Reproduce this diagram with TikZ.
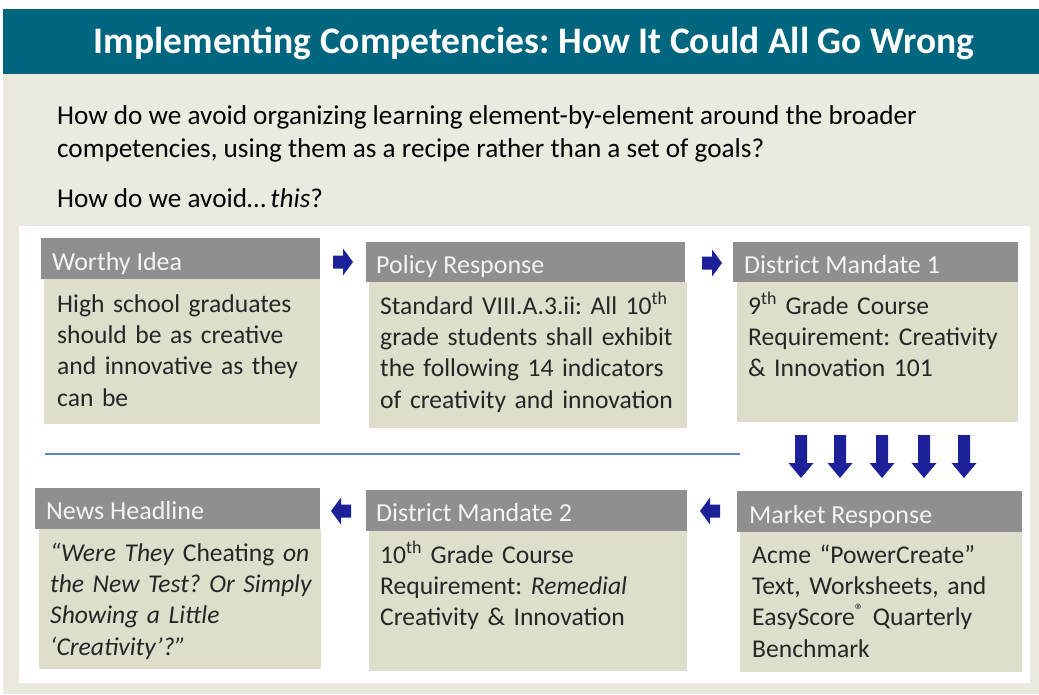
\documentclass[tikz,border=0pt]{standalone}
\usepackage{fontspec}
\setmainfont{Carlito}
\frenchspacing
\definecolor{titleteal}{HTML}{00667F}
\definecolor{pagebeige}{HTML}{ECE9DF}
\definecolor{hdrgray}{HTML}{8F8F8F}
\definecolor{bodyfill}{HTML}{DFDDCB}
\definecolor{bodytext}{HTML}{262626}
\definecolor{hdrtext}{HTML}{F4F4F4}
\definecolor{arrowblue}{HTML}{1C2199}
\definecolor{lineblue}{HTML}{5E86C4}
\begin{document}
\begin{tikzpicture}[x=1pt,y=-1pt,
  hdrbox/.style={fill=hdrgray, draw=none, inner sep=0, anchor=north west},
  bodybox/.style={fill=bodyfill, draw=none, inner sep=0, anchor=north west},
  htext/.style={anchor=base west, inner sep=0, text=hdrtext, font=\fontsize{26}{30}\selectfont\frenchspacing},
  btext/.style={anchor=base west, inner sep=0, text=bodytext, text width=300pt, align=left, font=\fontsize{25.6}{31.4}\selectfont\frenchspacing},
  qtext/.style={anchor=base west, inner sep=0, text=black, font=\fontsize{27.2}{30}\selectfont\frenchspacing},
  rarr/.pic={\fill[arrowblue] (-10,-6.5) -- (0,-6.5) -- (0,-13.5) -- (10,0) -- (0,13.5) -- (0,6.5) -- (-10,6.5) -- cycle;},
  darr/.pic={\fill[arrowblue] (-6,0) -- (6,0) -- (6,28) -- (12.5,28) -- (0,43) -- (-12.5,28) -- (-6,28) -- cycle;}
]
\useasboundingbox (0,0) rectangle (1039,694);
\fill[white] (0,0) rectangle (1039,694);
\fill[titleteal] (3,9) rectangle (1039,74);
\fill[pagebeige] (3,74) rectangle (1039,694);
\fill[white] (19,226) rectangle (1030,683);

% title
\node[anchor=base, inner sep=0, text=white, font=\fontsize{37.5}{40}\selectfont\bfseries] (title) at (534,53) {Implementing Competencies: How It Could All Go Wrong};

% questions
\node[qtext] (q1) at (57,124) {How do we avoid organizing learning element-by-element around the broader};
\node[qtext] (q2) at (57,157) {competencies, using them as a recipe rather than a set of goals?};
\node[qtext] (q3) at (57,207) {How do we avoid\ldots\,\textit{this}?};

% top row boxes
\node[hdrbox, minimum width=279, minimum height=41] (h1) at (41,238) {};
\node[bodybox, minimum width=276, minimum height=145] (b1) at (44,279) {};
\node[hdrbox, minimum width=319, minimum height=40] (h2) at (366,242) {};
\node[bodybox, minimum width=318, minimum height=146] (b2) at (369,282) {};
\node[hdrbox, minimum width=285, minimum height=40] (h3) at (733,242) {};
\node[bodybox, minimum width=281, minimum height=140] (b3) at (737,282) {};

% bottom row boxes
\node[hdrbox, minimum width=285, minimum height=41] (h4) at (35,488) {};
\node[bodybox, minimum width=282, minimum height=140] (b4) at (39,529) {};
\node[hdrbox, minimum width=321, minimum height=41] (h5) at (366,490) {};
\node[bodybox, minimum width=318, minimum height=140] (b5) at (369,531) {};
\node[hdrbox, minimum width=285, minimum height=41] (h6) at (737,491) {};
\node[bodybox, minimum width=282, minimum height=140] (b6) at (740,532) {};

% header texts
\node[htext] (t1) at (52,270) {Worthy Idea};
\node[htext] (t2) at (376,273) {Policy Response};
\node[htext] (t3) at (744,273) {District Mandate 1};
\node[htext] (t4) at (46,519) {News Headline};
\node[htext] (t5) at (376,521) {District Mandate 2};
\node[htext] (t6) at (749,523) {Market Response};

% body texts
\node[btext] (x1) at (57,312) {High school graduates\\should be as creative\\and innovative as they\\can be};
\node[btext] (x2) at (380,314) {Standard VIII.A.3.ii: All 10\textsuperscript{th}\\grade students shall exhibit\\the following 14 indicators\\of creativity and innovation};
\node[btext] (x3) at (748,314) {9\textsuperscript{th} Grade Course\\Requirement: Creativity\\\& Innovation 101};
\node[btext] (x4) at (50,561) {\textit{“Were They} Cheating \textit{on}\\\textit{the New Test? Or Simply}\\\textit{Showing a Little}\\\textit{‘Creativity’?”}};
\node[btext] (x5) at (380,563) {10\textsuperscript{th} Grade Course\\Requirement: \textit{Remedial}\\Creativity \& Innovation};
\node[btext] (x6) at (752,563) {Acme “PowerCreate”\\Text, Worksheets, and\\EasyScore\textsuperscript{®} Quarterly\\Benchmark};

% arrows
\pic at (343,262) {rarr};
\pic at (712,263) {rarr};
\pic[rotate=180] at (341,511) {rarr};
\pic[rotate=180] at (710,511) {rarr};
\foreach \xx in {801,840,882,924,964} \pic at (\xx,435) {darr};

% separator line
\coordinate (lineL) at (45,454);
\coordinate (lineR) at (740,454);
\draw[lineblue, line width=2pt] (lineL) -- (lineR);
\end{tikzpicture}
\end{document}
